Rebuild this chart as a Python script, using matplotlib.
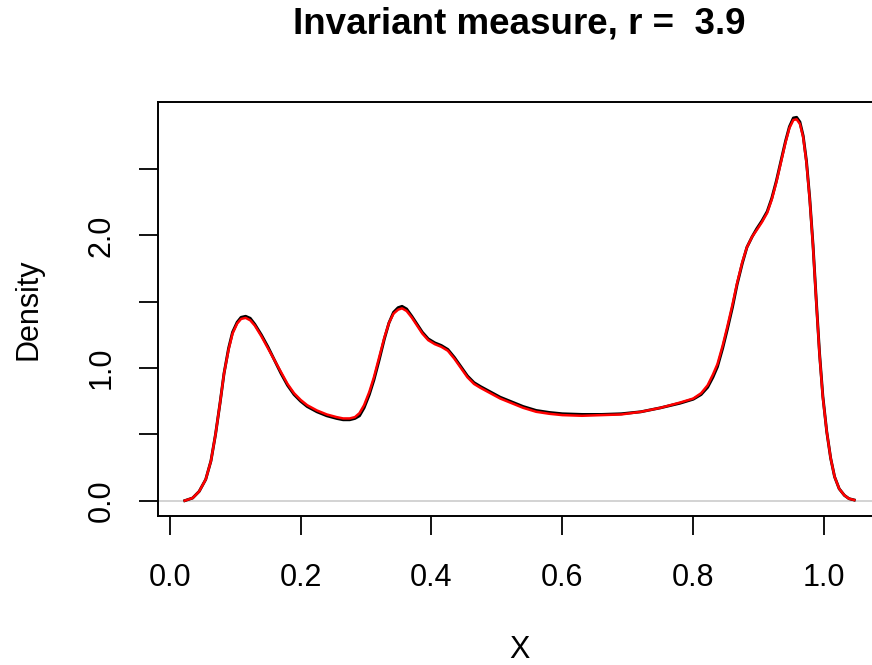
import matplotlib
matplotlib.use("Agg")
import matplotlib.pyplot as plt

# density estimate (red curve drawn on top of the black one)
x_vals = [0.023, 0.035, 0.045, 0.055, 0.063, 0.070, 0.077, 0.083, 0.090, 0.096,
          0.103, 0.109, 0.116, 0.123, 0.130, 0.140, 0.150, 0.160, 0.170, 0.180,
          0.190, 0.200, 0.210, 0.225, 0.240, 0.255, 0.265, 0.275, 0.283, 0.290,
          0.297, 0.305, 0.312, 0.320, 0.328, 0.335, 0.342, 0.349, 0.355, 0.362,
          0.370, 0.378, 0.386, 0.395, 0.405, 0.415, 0.425, 0.435, 0.445, 0.455,
          0.465, 0.475, 0.490, 0.505, 0.520, 0.540, 0.560, 0.580, 0.600, 0.630,
          0.660, 0.690, 0.720, 0.750, 0.780, 0.800, 0.812, 0.822, 0.830, 0.837,
          0.845, 0.852, 0.860, 0.867, 0.875, 0.882, 0.890, 0.897, 0.905, 0.913,
          0.920, 0.927, 0.934, 0.941, 0.947, 0.953, 0.958, 0.963, 0.968, 0.973,
          0.978, 0.983, 0.988, 0.993, 0.998, 1.004, 1.010, 1.016, 1.023, 1.031,
          1.038, 1.046]

dens_red = [0.00, 0.02, 0.07, 0.16, 0.30, 0.50, 0.74, 0.96, 1.14, 1.26,
            1.335, 1.37, 1.378, 1.36, 1.32, 1.24, 1.15, 1.06, 0.97, 0.88,
            0.81, 0.76, 0.72, 0.68, 0.65, 0.63, 0.62, 0.62, 0.63, 0.66,
            0.72, 0.82, 0.93, 1.08, 1.23, 1.34, 1.41, 1.44, 1.45, 1.43,
            1.38, 1.32, 1.26, 1.21, 1.18, 1.16, 1.13, 1.07, 1.00, 0.93,
            0.88, 0.85, 0.81, 0.77, 0.74, 0.70, 0.67, 0.655, 0.645, 0.64,
            0.645, 0.65, 0.67, 0.70, 0.74, 0.77, 0.81, 0.87, 0.95, 1.03,
            1.17, 1.31, 1.48, 1.64, 1.80, 1.91, 1.99, 2.04, 2.10, 2.17,
            2.27, 2.40, 2.55, 2.70, 2.81, 2.87, 2.875, 2.84, 2.74, 2.55,
            2.27, 1.92, 1.50, 1.10, 0.78, 0.52, 0.32, 0.18, 0.09, 0.04,
            0.015, 0.005]

dens_black = [0.00, 0.02, 0.07, 0.16, 0.30, 0.50, 0.74, 0.96, 1.15, 1.27,
              1.345, 1.382, 1.39, 1.375, 1.33, 1.25, 1.16, 1.06, 0.96, 0.87,
              0.80, 0.75, 0.71, 0.67, 0.64, 0.62, 0.61, 0.61, 0.62, 0.64,
              0.70, 0.80, 0.91, 1.06, 1.22, 1.34, 1.42, 1.455, 1.465, 1.445,
              1.39, 1.33, 1.27, 1.22, 1.19, 1.17, 1.14, 1.08, 1.01, 0.94,
              0.89, 0.86, 0.82, 0.78, 0.75, 0.71, 0.68, 0.665, 0.655, 0.65,
              0.65, 0.655, 0.67, 0.70, 0.735, 0.765, 0.80, 0.855, 0.93, 1.01,
              1.15, 1.29, 1.46, 1.63, 1.79, 1.91, 1.99, 2.05, 2.11, 2.18,
              2.28, 2.41, 2.56, 2.71, 2.82, 2.885, 2.89, 2.855, 2.75, 2.56,
              2.28, 1.93, 1.51, 1.11, 0.79, 0.52, 0.32, 0.18, 0.09, 0.04,
              0.015, 0.005]

x_ticks = [0.0, 0.2, 0.4, 0.6, 0.8, 1.0]
y_ticks = [0.0, 0.5, 1.0, 1.5, 2.0, 2.5]
y_tick_labels = ["0.0", "", "1.0", "", "2.0", ""]

plt.rcParams['font.family'] = ['Liberation Sans', 'DejaVu Sans']

W, H = 872, 665
fig = plt.figure(figsize=(W / 100, H / 100), dpi=100)
ax = fig.add_axes([158 / W, (H - 516) / H, (881 - 158) / W, (516 - 102) / H])

ax.axhline(0, color="#d3d3d3", lw=1.4, zorder=1)
ax.plot(x_vals, dens_black, color="black", lw=2.1, zorder=2,
        solid_joinstyle="round")
ax.plot(x_vals, dens_red, color="red", lw=1.8, zorder=3,
        solid_joinstyle="round")

ymax = max(dens_black)
xmin, xmax = x_vals[0], x_vals[-1]
xr = xmax - xmin
ax.set_xlim(xmin - 0.04 * xr, xmax + 0.04 * xr)
ax.set_ylim(-0.04 * ymax, 1.04 * ymax)

ax.set_xticks(x_ticks)
ax.set_xticklabels(["%.1f" % v for v in x_ticks])
ax.set_yticks(y_ticks)
ax.set_yticklabels(y_tick_labels, rotation=90, va="center")
ax.tick_params(axis="both", length=14, width=1.3, labelsize=22, direction="out")
ax.tick_params(axis="x", pad=20)
ax.tick_params(axis="y", pad=16)
for s in ax.spines.values():
    s.set_linewidth(1.4)

fig.text(519.5 / W, 1 - 24 / H, "Invariant measure, r =  3.9",
         ha="center", va="center", fontsize=26.5, fontweight="bold")
fig.text(519.5 / W, 1 - 650 / H, "X", ha="center", va="center", fontsize=22)
fig.text(28 / W, 1 - 309 / H, "Density", ha="center", va="center",
         fontsize=22, rotation=90)

fig.savefig("out.png", dpi=100)
